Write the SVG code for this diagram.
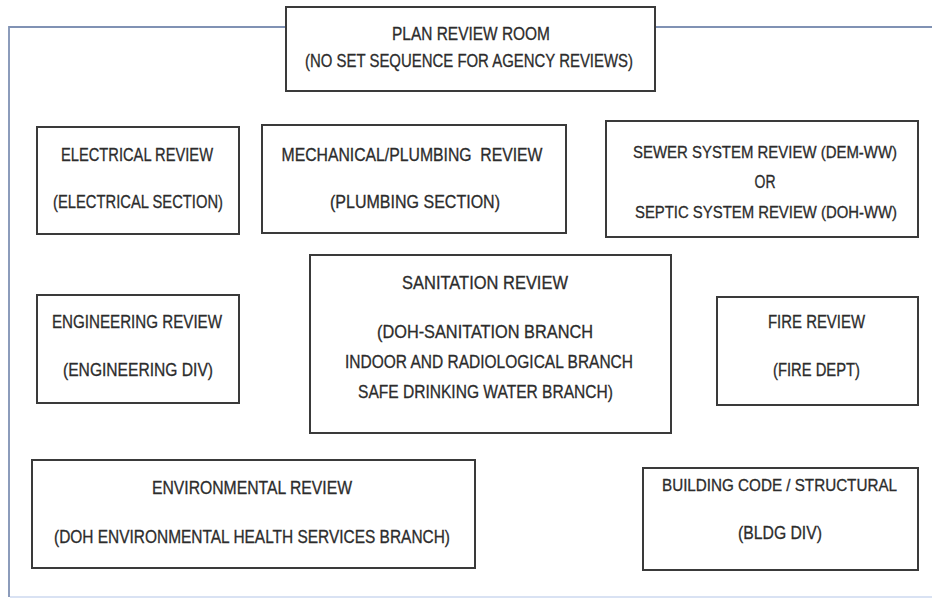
<svg xmlns="http://www.w3.org/2000/svg" width="932" height="599" viewBox="0 0 932 599">
<style>
  .box { fill: #ffffff; stroke: #3a3a3a; stroke-width: 2; }
  .t { font-family: "Liberation Sans", Arial, sans-serif; font-size: 18px; fill: #2c2c2c; stroke: #2c2c2c; stroke-width: 0.3; text-anchor: middle; white-space: pre; }
  .s { font-size: 16px; }
  .frame { fill: none; stroke: #8092b4; stroke-width: 1.8; }
  .frameb { fill: none; stroke: #cdd9ef; stroke-width: 1.5; }
</style>
<rect x="0" y="0" width="932" height="599" fill="#ffffff"/>
<g id="frame">
  <path class="frame" d="M9,597 V27 H286"/>
  <path class="frame" d="M655,27 H932"/>
  <path class="frameb" d="M10,597 H932"/>
</g>
<g id="connectors"></g>
<g id="plan-review-room">
  <rect class="box" x="286" y="7" width="369" height="84"/>
  <text class="t" x="471" y="40" textLength="158" lengthAdjust="spacingAndGlyphs">PLAN REVIEW ROOM</text>
  <text class="t" x="469" y="67" textLength="328" lengthAdjust="spacingAndGlyphs">(NO SET SEQUENCE FOR AGENCY REVIEWS)</text>
</g>
<g id="electrical">
  <rect class="box" x="37" y="127" width="202" height="107"/>
  <text class="t" x="137" y="161" textLength="152" lengthAdjust="spacingAndGlyphs">ELECTRICAL REVIEW</text>
  <text class="t" x="138" y="208" textLength="170" lengthAdjust="spacingAndGlyphs">(ELECTRICAL SECTION)</text>
</g>
<g id="mechanical-plumbing">
  <rect class="box" x="262" y="125" width="304" height="108"/>
  <text class="t" x="412" y="161" textLength="261" lengthAdjust="spacingAndGlyphs">MECHANICAL/PLUMBING  REVIEW</text>
  <text class="t" x="415" y="208" textLength="170" lengthAdjust="spacingAndGlyphs">(PLUMBING SECTION)</text>
</g>
<g id="sewer-septic">
  <rect class="box" x="606" y="121" width="312" height="116"/>
  <text class="t s" x="765" y="158" textLength="264" lengthAdjust="spacingAndGlyphs">SEWER SYSTEM REVIEW (DEM-WW)</text>
  <text class="t" x="765" y="188" textLength="21" lengthAdjust="spacingAndGlyphs">OR</text>
  <text class="t s" x="766" y="218" textLength="262" lengthAdjust="spacingAndGlyphs">SEPTIC SYSTEM REVIEW (DOH-WW)</text>
</g>
<g id="engineering">
  <rect class="box" x="37" y="295" width="202" height="108"/>
  <text class="t" x="137" y="328" textLength="170" lengthAdjust="spacingAndGlyphs">ENGINEERING REVIEW</text>
  <text class="t" x="138" y="376" textLength="150" lengthAdjust="spacingAndGlyphs">(ENGINEERING DIV)</text>
</g>
<g id="sanitation">
  <rect class="box" x="310" y="255" width="361" height="178"/>
  <text class="t" x="485" y="289" textLength="166" lengthAdjust="spacingAndGlyphs">SANITATION REVIEW</text>
  <text class="t" x="485" y="338" textLength="216" lengthAdjust="spacingAndGlyphs">(DOH-SANITATION BRANCH</text>
  <text class="t" x="489" y="368" textLength="288" lengthAdjust="spacingAndGlyphs">INDOOR AND RADIOLOGICAL BRANCH</text>
  <text class="t" x="485.5" y="398" textLength="255" lengthAdjust="spacingAndGlyphs">SAFE DRINKING WATER BRANCH)</text>
</g>
<g id="fire">
  <rect class="box" x="717" y="297" width="201" height="108"/>
  <text class="t" x="816.5" y="328" textLength="97" lengthAdjust="spacingAndGlyphs">FIRE REVIEW</text>
  <text class="t" x="816.5" y="376" textLength="87" lengthAdjust="spacingAndGlyphs">(FIRE DEPT)</text>
</g>
<g id="environmental">
  <rect class="box" x="32" y="460" width="443" height="108"/>
  <text class="t" x="252" y="494" textLength="200" lengthAdjust="spacingAndGlyphs">ENVIRONMENTAL REVIEW</text>
  <text class="t" x="252" y="543" textLength="396" lengthAdjust="spacingAndGlyphs">(DOH ENVIRONMENTAL HEALTH SERVICES BRANCH)</text>
</g>
<g id="building-code">
  <rect class="box" x="643" y="468" width="275" height="102"/>
  <text class="t s" x="779.5" y="491" textLength="235" lengthAdjust="spacingAndGlyphs">BUILDING CODE / STRUCTURAL</text>
  <text class="t" x="780" y="539" textLength="84" lengthAdjust="spacingAndGlyphs">(BLDG DIV)</text>
</g>
</svg>
